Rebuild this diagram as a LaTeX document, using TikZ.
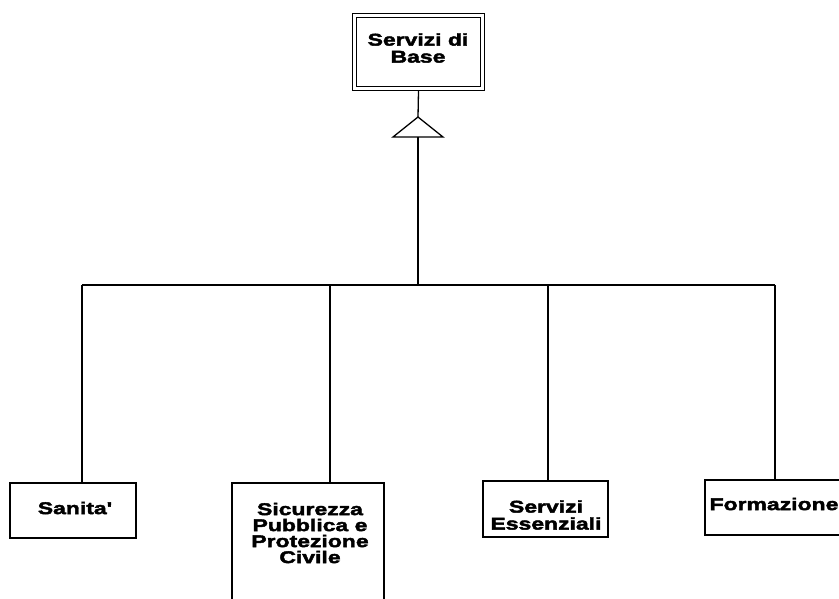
\documentclass[tikz,border=0pt]{standalone}
\usepackage{fontspec}
\newfontfamily\lblfont[FakeStretch=1.35,FakeBold=2.5]{Liberation Sans}
\begin{document}
\begin{tikzpicture}[x=1pt,y=-1pt,
  wire/.style={line width=1.3pt},
  busline/.style={line width=2.4pt},
  leaf/.style={draw,line width=1.5pt,rectangle,inner sep=0pt},
  rootbox/.style={draw,double,double distance=3pt,line width=1.4pt,rectangle,inner sep=0pt},
  lbl/.style={font=\lblfont\bfseries\fontsize{17}{17}\selectfont,align=center,inner sep=0pt}]
\useasboundingbox (0,0) rectangle (839,598);
\clip (0,0) rectangle (839,598);

% root class with its generalisation triangle
\node[rootbox,minimum width=128pt,minimum height=73pt] (root) at (418.5,52) {};
\node[lbl] (rootlbl) at (418,48) {Servizi di\\Base};
\coordinate (apex) at (418,117);
\coordinate (tribase) at (418,137);
\draw[wire,line join=miter] (apex) -- ([xshift=-25pt]tribase) -- ([xshift=25pt]tribase) -- cycle;

% specialised classes
\node[leaf,minimum width=126pt,minimum height=55pt] (sanita) at (73,510.5) {};
\node[lbl] (sanitalbl) at (75,508) {Sanita'};
\node[leaf,minimum width=152pt,minimum height=157pt] (sicurezza) at (308,561.5) {};
\node[lbl,font=\lblfont\bfseries\fontsize{17}{16}\selectfont] (sicurezzalbl) at (310,533) {Sicurezza\\Pubblica e\\Protezione\\Civile};
\node[leaf,minimum width=125pt,minimum height=56pt] (essenziali) at (545.5,509) {};
\node[lbl] (essenzialilbl) at (546,515) {Servizi\\Essenziali};
\node[leaf,minimum width=140pt,minimum height=55pt] (formazione) at (775,507.5) {};
\node[lbl] (formazionelbl) at (774,504) {Formazione};

% connectors
\coordinate (bus) at (418,285);
\coordinate (b1) at (82,285);
\coordinate (b2) at (330,285);
\coordinate (b3) at (548,285);
\coordinate (b4) at (775,285);
\draw[wire] ([yshift=-2pt]root.south) -- (apex);
\draw[wire] (tribase) -- (bus);
\draw[busline] (b1) -- (b4);
\draw[wire] (b1) -- (b1 |- sanita.north);
\draw[wire] (b2) -- (b2 |- sicurezza.north);
\draw[wire] (b3) -- (b3 |- essenziali.north);
\draw[wire] (b4) -- (b4 |- formazione.north);
\end{tikzpicture}
\end{document}
